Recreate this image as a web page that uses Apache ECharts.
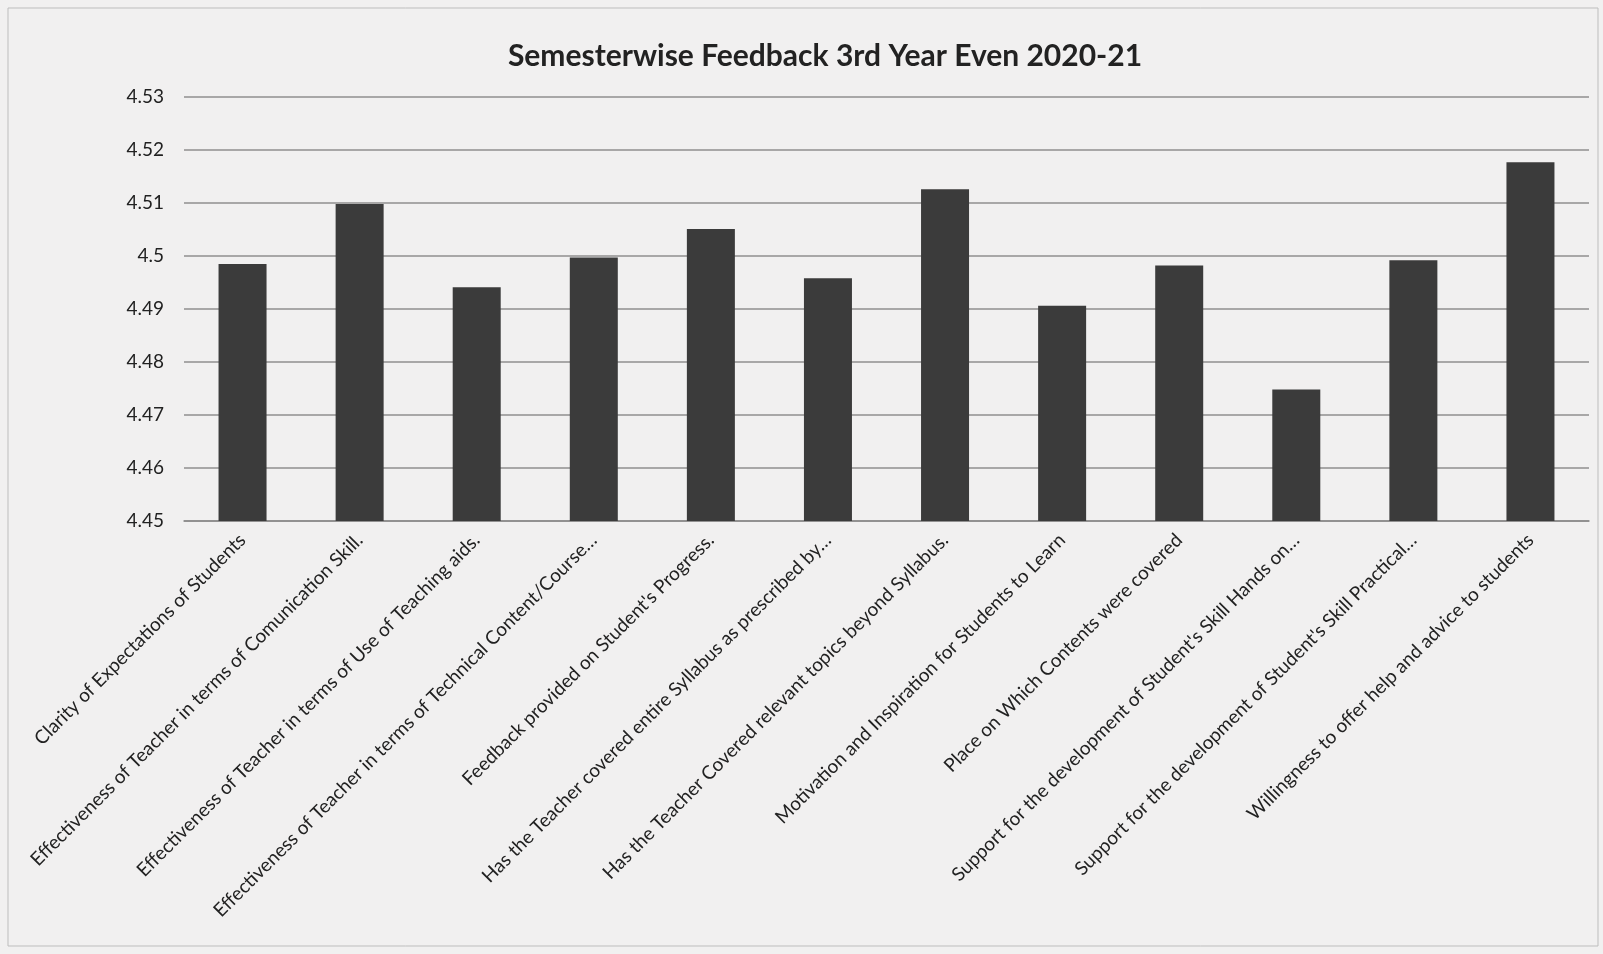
<!DOCTYPE html>
<html>
<head>
<meta charset="utf-8">
<script src="https://cdn.jsdelivr.net/npm/echarts@6/dist/echarts.min.js"></script>
<style>
  html, body { margin: 0; padding: 0; background: #f1f0f0; }
  #chart { width: 1603px; height: 954px; }
</style>
</head>
<body>
<div id="chart"></div>
<script>
var categories = [
  "Clarity of Expectations of Students",
  "Effectiveness of Teacher in terms of Comunication Skill.",
  "Effectiveness of Teacher in terms of Use of Teaching aids.",
  "Effectiveness of Teacher in terms of Technical Content/Course…",
  "Feedback provided on Student's Progress.",
  "Has the Teacher covered entire Syllabus as prescribed by…",
  "Has the Teacher Covered relevant topics beyond Syllabus.",
  "Motivation and Inspiration for Students to Learn",
  "Place on Which Contents were covered",
  "Support for the development of Student's Skill Hands on…",
  "Support for the development of Student's Skill Practical…",
  "Willingness to offer help and advice to students"
];
var scores = [4.4985, 4.5098, 4.4941, 4.4997, 4.5051, 4.4958, 4.5126, 4.4906, 4.4982, 4.4748, 4.4992, 4.5177];

var chart = echarts.init(document.getElementById('chart'));
chart.setOption({
  backgroundColor: '#f1f0f0',
  animation: false,
  title: {
    text: 'Semesterwise Feedback 3rd Year Even 2020-21',
    left: 820,
    textAlign: 'center',
    top: 36,
    textStyle: { fontFamily: 'Lato', fontSize: 30, fontWeight: 'bold', color: '#222' }
  },
  graphic: [{
    type: 'rect',
    shape: { x: 8, y: 8, width: 1590, height: 938 },
    style: { fill: 'none', stroke: '#bdbdbd', lineWidth: 1 }
  }],
  grid: { left: 184, right: 14, top: 97, bottom: 433 },
  xAxis: {
    type: 'category',
    data: categories,
    axisLine: { lineStyle: { color: '#8a8a8a', width: 1.5 } },
    axisTick: { show: false },
    axisLabel: {
      interval: 0,
      rotate: 45,
      margin: 16,
      color: '#222',
      fontFamily: 'Lato',
      fontSize: 19
    }
  },
  yAxis: {
    type: 'value',
    min: 4.45,
    max: 4.53,
    interval: 0.01,
    axisLine: { show: false },
    axisTick: { show: false },
    splitLine: { lineStyle: { color: '#8f8f8f', width: 1.5 } },
    axisLabel: { color: '#222', fontFamily: 'Lato', fontSize: 19, margin: 20 }
  },
  series: [{
    type: 'bar',
    data: scores,
    barWidth: '41%',
    itemStyle: { color: '#3b3b3b' }
  }]
});
</script>
</body>
</html>
